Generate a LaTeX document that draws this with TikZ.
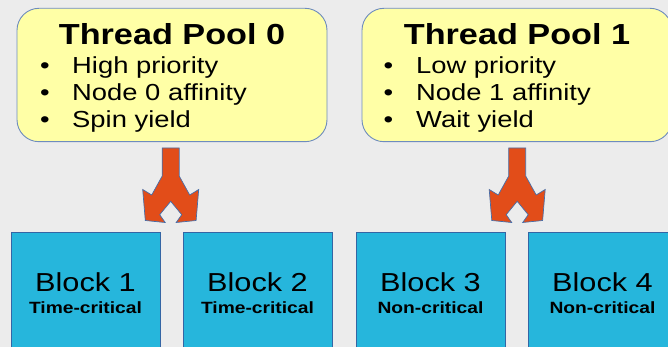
\documentclass[tikz,border=0pt]{standalone}
\usepackage{fontspec}
\setmainfont{Liberation Sans}
\newfontfamily\widesans[FakeStretch=1.18]{Liberation Sans}

\definecolor{pagebg}{RGB}{236,236,236}
\definecolor{poolfill}{RGB}{255,255,166}
\definecolor{poolline}{RGB}{110,140,190}
\definecolor{blockfill}{RGB}{38,182,220}
\definecolor{blockline}{RGB}{52,101,164}
\definecolor{forkfill}{RGB}{226,77,25}
\definecolor{forkline}{RGB}{70,110,170}

\tikzset{
  poolbox/.style={draw=poolline, line width=0.9pt, fill=poolfill,
    rounded corners=22pt, inner sep=0pt, minimum width=310pt, minimum height=133.4pt},
  blockbox/.style={draw=blockline, line width=0.9pt, fill=blockfill,
    inner sep=0pt, minimum width=149pt, minimum height=130pt},
  pooltitle/.style={inner sep=0pt, anchor=base,
    font=\widesans\bfseries\fontsize{29}{29}\selectfont},
  poolitem/.style={inner sep=0pt, anchor=base west,
    font=\widesans\fontsize{23.2}{23.2}\selectfont},
  bulletmark/.style={inner sep=0pt, anchor=base,
    font=\widesans\fontsize{23.2}{23.2}\selectfont},
  blocktitle/.style={inner sep=0pt, anchor=base,
    font=\widesans\fontsize{26}{26}\selectfont},
  blocknote/.style={inner sep=0pt, anchor=base,
    font=\widesans\bfseries\fontsize{16.3}{16.3}\selectfont},
  forkarrow/.style={draw=forkline, line width=0.7pt, fill=forkfill, line join=miter}
}

% split arrow: shaft at the top, two heads pointing down-left and down-right
\newcommand\forkshape{%
  (-8.5,0) -- (-8.5,28) -- (-19,47) -- (-28,41.5) -- (-25.4,72.5) -- (-5.5,74.5)
  -- (-11,66.7) -- (0,53.3) -- (11,66.7) -- (5.5,74.5) -- (25.4,72.5) -- (28,41.5)
  -- (19,47) -- (8.5,28) -- (8.5,0) -- cycle}

\begin{document}
\begin{tikzpicture}[x=1pt,y=-1pt]
\useasboundingbox (0,0) rectangle (668,347);
\clip (0,0) rectangle (668,347);
\fill[pagebg] (0,0) rectangle (668,347);

% thread pools
\node[poolbox] (pool0) at (172,75) {};
\node[poolbox] (pool1) at (517,75) {};

\node[pooltitle] (t0) at (172,45) {Thread Pool 0};
\node[bulletmark] (d01) at (45,74) {•};
\node[bulletmark] (d02) at (45,101) {•};
\node[bulletmark] (d03) at (45,128) {•};
\node[poolitem] (i01) at (72,74) {High priority};
\node[poolitem] (i02) at (72,101) {Node 0 affinity};
\node[poolitem] (i03) at (72,128) {Spin yield};

\node[pooltitle] (t1) at (517,45) {Thread Pool 1};
\node[bulletmark] (d11) at (388.5,74) {•};
\node[bulletmark] (d12) at (388.5,101) {•};
\node[bulletmark] (d13) at (388.5,128) {•};
\node[poolitem] (i11) at (416,74) {Low priority};
\node[poolitem] (i12) at (416,101) {Node 1 affinity};
\node[poolitem] (i13) at (416,128) {Wait yield};

% split arrows from each pool to its blocks
\draw[forkarrow, shift={(170.7,148)}] \forkshape;
\draw[forkarrow, shift={(517.2,148)}] \forkshape;

% blocks
\node[blockbox] (b1) at (85.5,297) {};
\node[blockbox] (b2) at (257.5,297) {};
\node[blockbox] (b3) at (430.5,297) {};
\node[blockbox] (b4) at (602.5,297) {};

\node[blocktitle] (n1) at (85.5,291) {Block 1};
\node[blocknote]  (m1) at (85.5,313) {Time-critical};
\node[blocktitle] (n2) at (257.5,291) {Block 2};
\node[blocknote]  (m2) at (257.5,313) {Time-critical};
\node[blocktitle] (n3) at (430.5,291) {Block 3};
\node[blocknote]  (m3) at (430.5,313) {Non-critical};
\node[blocktitle] (n4) at (602.5,291) {Block 4};
\node[blocknote]  (m4) at (602.5,313) {Non-critical};
\end{tikzpicture}
\end{document}
